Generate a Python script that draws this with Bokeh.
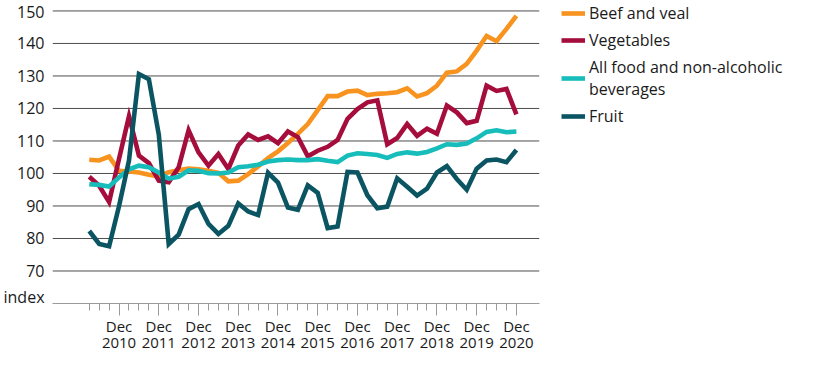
import numpy as np
from bokeh.plotting import figure
from bokeh.models import FixedTicker, Legend, LegendItem, Range1d
from bokeh.embed import file_html
from bokeh.resources import INLINE

# Quarterly periods, March 2010 .. December 2020
quarters = [f"{y}Q{q}" for y in range(2010, 2021) for q in range(1, 5)]

beef = [104.2, 104.0, 105.2, 100.8, 100.6, 100.3, 99.6, 99.1, 100.4, 101.0,
        101.5, 101.3, 100.8, 100.2, 97.6, 97.8, 99.8, 102.2, 104.7, 106.8,
        109.4, 112.2, 115.2, 119.5, 123.8, 123.8, 125.2, 125.5, 124.1, 124.5,
        124.7, 125.0, 126.2, 123.7, 124.7, 127.0, 131.0, 131.4, 133.7, 137.8,
        142.3, 140.7, 144.5, 148.5]

vegetables = [99.0, 96.2, 91.2, 104.5, 117.6, 105.5, 103.2, 97.8, 97.3, 101.9,
              113.3, 106.5, 102.4, 106.0, 101.4, 108.6, 112.0, 110.3, 111.4, 109.3,
              112.9, 111.2, 105.3, 107.0, 108.2, 110.3, 116.8, 119.8, 121.9, 122.5,
              109.0, 110.9, 115.2, 111.6, 113.8, 112.2, 120.9, 118.8, 115.5, 116.2,
              127.0, 125.4, 126.0, 118.2]

all_food = [96.7, 96.5, 96.0, 98.8, 101.3, 102.4, 101.9, 100.3, 98.4, 99.0,
            101.0, 100.8, 100.1, 100.0, 100.3, 101.9, 102.2, 102.7, 103.7, 104.1,
            104.3, 104.1, 104.1, 104.4, 103.9, 103.5, 105.5, 106.2, 106.0, 105.7,
            104.8, 106.0, 106.5, 106.1, 106.6, 107.7, 109.0, 108.8, 109.2, 110.8,
            112.8, 113.3, 112.7, 112.9]

fruit = [82.3, 78.3, 77.6, 90.0, 104.0, 130.6, 129.0, 112.0, 78.3, 81.2,
         89.0, 90.6, 84.5, 81.4, 83.9, 90.8, 88.3, 87.2, 100.2, 97.2,
         89.5, 88.8, 96.3, 94.0, 83.2, 83.7, 100.5, 100.3, 93.3, 89.3,
         89.8, 98.5, 95.9, 93.2, 95.3, 100.3, 102.3, 98.3, 95.0, 101.5,
         104.0, 104.3, 103.5, 107.2]

series_names = ["Beef and veal", "Vegetables",
                "All food and non-alcoholic\nbeverages", "Fruit"]
series_colors = ["#F7931E", "#A50D3C", "#17BDBA", "#0B5563"]

y_ticks = [70, 80, 90, 100, 110, 120, 130, 140, 150]
unit_label = "index"

x = list(range(len(quarters)))
dec_idx = [i for i, qq in enumerate(quarters) if qq.endswith("Q4")]
x_labels = {i: f"Dec\n{quarters[i][:4]}" for i in dec_idx}

FONT = "Open Sans"
TXT = "#1a1a1a"

# horizontal extent of the chart area (quarter units), the legend sits to its right
X0, X1 = -3.7, 45.3

p = figure(width=800, height=366, output_backend="svg", toolbar_location=None,
           x_range=Range1d(X0, X1 + 26.3), y_range=Range1d(60, 152.6),
           min_border_left=47, min_border_right=0, min_border_top=2,
           min_border_bottom=63)
p.outline_line_color = None
p.background_fill_color = "white"
p.border_fill_color = "white"

# horizontal grid lines limited to the chart area
p.segment(x0=[X0] * len(y_ticks), y0=y_ticks, x1=[X1] * len(y_ticks), y1=y_ticks,
          line_color="#4d4d4d", line_width=1)

renderers = []
for vals, col in zip([beef, vegetables, all_food, fruit], series_colors):
    r = p.line(x, vals, line_color=col, line_width=4.6, line_join="miter")
    renderers.append(r)

# y axis: value labels plus the unit word just above the baseline
unit_pos = 61.9
p.yaxis.ticker = FixedTicker(ticks=[unit_pos] + y_ticks)
p.yaxis.major_label_overrides = {unit_pos: unit_label}
p.yaxis.axis_line_color = None
p.yaxis.major_tick_line_color = None
p.yaxis.minor_tick_line_color = None
p.yaxis.major_tick_out = 0
p.yaxis.major_tick_in = 0
p.yaxis.major_label_standoff = 8
p.yaxis.major_label_text_font = FONT
p.yaxis.major_label_text_font_size = "16px"
p.yaxis.major_label_text_color = TXT

p.xgrid.grid_line_color = None
p.ygrid.grid_line_color = None

# x axis
p.xaxis.bounds = (X0, X1)
p.xaxis.ticker = FixedTicker(ticks=dec_idx, minor_ticks=x)
p.xaxis.major_label_overrides = x_labels
p.xaxis.axis_line_color = "#9a9a9a"
p.xaxis.major_tick_line_color = "#9a9a9a"
p.xaxis.minor_tick_line_color = "#9a9a9a"
p.xaxis.major_tick_in = 0
p.xaxis.minor_tick_in = 0
p.xaxis.major_tick_out = 12
p.xaxis.minor_tick_out = 7
p.xaxis.major_label_standoff = 0
p.xaxis.major_label_text_font = FONT
p.xaxis.major_label_text_font_size = "15px"
p.xaxis.major_label_text_color = TXT
p.xaxis.major_label_text_line_height = 0.8

legend = Legend(items=[LegendItem(label=n, renderers=[r])
                       for n, r in zip(series_names, renderers)],
                location=(509, 176), orientation="vertical",
                glyph_width=24, glyph_height=20, label_standoff=4, spacing=5,
                padding=0, margin=0, border_line_color=None,
                background_fill_alpha=0, label_text_font=FONT,
                label_text_font_size="16px", label_text_color=TXT)
p.add_layout(legend, "center")

open("out.html", "w").write(file_html(p, INLINE))
